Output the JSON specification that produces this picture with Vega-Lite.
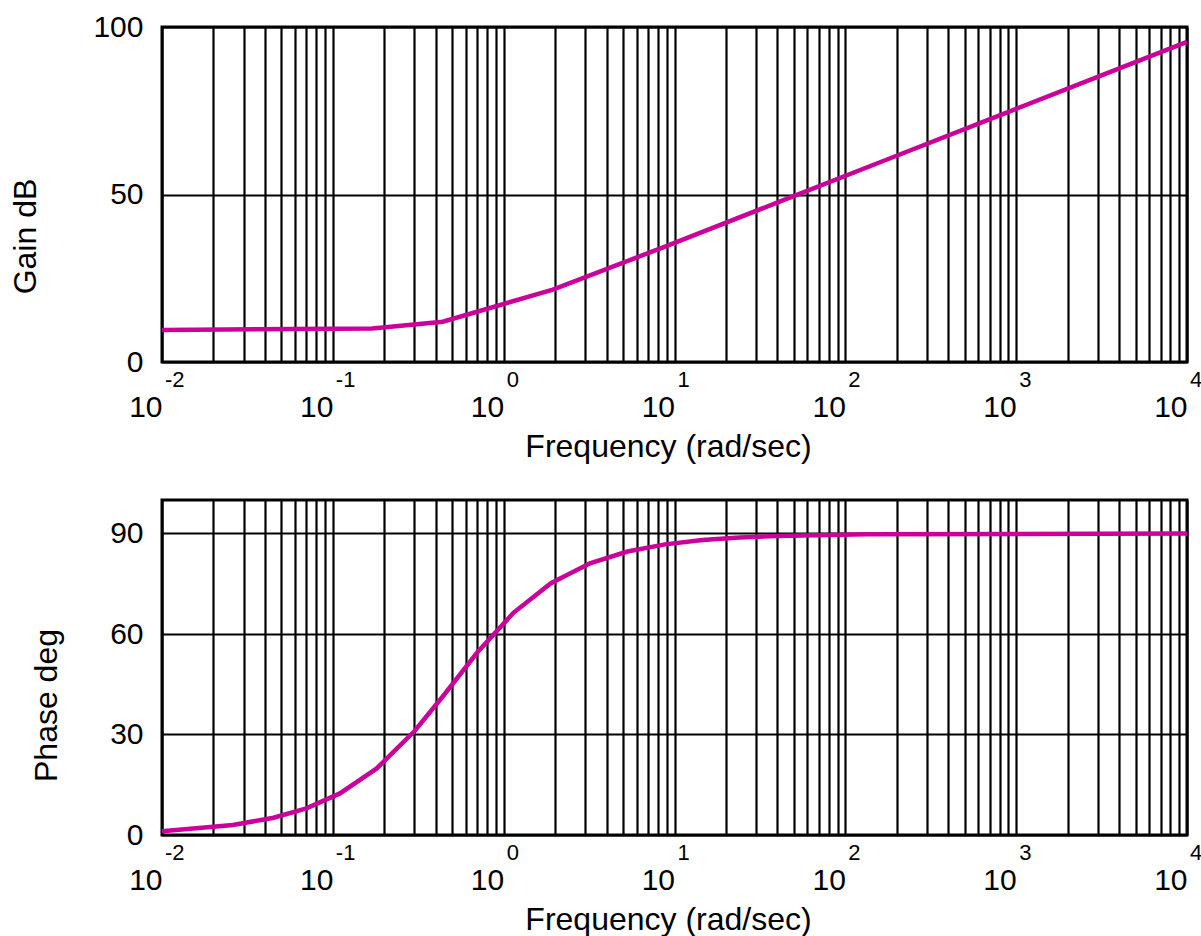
{
  "$schema": "https://vega.github.io/schema/vega-lite/v6.json",
  "background": "white",
  "padding": {"left": 7, "top": 10, "right": 10, "bottom": 0},
  "spacing": 34,
  "config": {
    "view": {"stroke": "black", "strokeWidth": 3},
    "font": "Liberation Sans",
    "axis": {
      "domain": false, "ticks": false, "grid": true,
      "gridColor": "black", "gridWidth": 2.2, "gridOpacity": 1,
      "labelColor": "black", "titleColor": "black",
      "labelFont": "Liberation Sans", "titleFont": "Liberation Sans",
      "titleFontWeight": "normal"
    }
  },
  "datasets": {
    "gain": [
      {"w": 0.01, "g": 9.54},
      {"w": 0.17, "g": 10.02},
      {"w": 0.44, "g": 12.03},
      {"w": 1.94, "g": 21.6},
      {"w": 8.5, "g": 34.16},
      {"w": 39.5, "g": 47.49},
      {"w": 180, "g": 60.67},
      {"w": 800, "g": 73.62},
      {"w": 3500, "g": 86.44},
      {"w": 10000, "g": 95.56}
    ],
    "phase": [
      {"w": 0.01, "p": 1.15},
      {"w": 0.026, "p": 2.98},
      {"w": 0.045, "p": 5.14},
      {"w": 0.07, "p": 7.97},
      {"w": 0.11, "p": 12.41},
      {"w": 0.18, "p": 19.8},
      {"w": 0.3, "p": 30.96},
      {"w": 0.44, "p": 41.35},
      {"w": 0.7, "p": 54.46},
      {"w": 1.14, "p": 66.32},
      {"w": 1.89, "p": 75.18},
      {"w": 3.2, "p": 81.12},
      {"w": 5.3, "p": 84.61},
      {"w": 8.8, "p": 86.75},
      {"w": 14.6, "p": 88.04},
      {"w": 24, "p": 88.81},
      {"w": 40, "p": 89.28},
      {"w": 133, "p": 89.78},
      {"w": 10000, "p": 90.0}
    ],
    "exps": [
      {"f": 0.01, "e": "-2"},
      {"f": 0.1, "e": "-1"},
      {"f": 1, "e": "0"},
      {"f": 10, "e": "1"},
      {"f": 100, "e": "2"},
      {"f": 1000, "e": "3"},
      {"f": 10000, "e": "4"}
    ]
  },
  "vconcat": [
    {
      "width": 1025,
      "height": 335,
      "layer": [
        {
          "data": {"name": "gain"},
          "mark": {"type": "line", "color": "#cc0099", "strokeWidth": 4.5},
          "encoding": {
            "x": {
              "field": "w", "type": "quantitative",
              "scale": {"type": "log", "domain": [0.01, 10000], "nice": false},
              "axis": {
                "values": [0.01,0.02,0.03,0.04,0.05,0.06,0.07,0.08,0.09,0.1,0.2,0.3,0.4,0.5,0.6,0.7,0.8,0.9,1,2,3,4,5,6,7,8,9,10,20,30,40,50,60,70,80,90,100,200,300,400,500,600,700,800,900,1000,2000,3000,4000,5000,6000,7000,8000,9000,10000],
                "labelExpr": "indexof([0.01,0.1,1,10,100,1000,10000], datum.value) >= 0 ? '10' : ''",
                "labelAlign": "right", "labelDx": -4, "labelBaseline": "alphabetic",
                "labelPadding": 54, "labelFontSize": 30, "labelOverlap": false, "labelFlush": false,
                "title": "Frequency (rad/sec)", "titleFontSize": 32,
                "titleX": 506, "titleY": 94.5, "titleBaseline": "alphabetic", "titleAlign": "center"
              }
            },
            "y": {
              "field": "g", "type": "quantitative",
              "scale": {"domain": [0, 100], "nice": false, "zero": false},
              "axis": {
                "values": [0, 50, 100],
                "labelFontSize": 30, "labelPadding": 19, "labelBaseline": "middle", "labelDy": -5,
                "title": "Gain dB", "titleFontSize": 32,
                "titleX": -127, "titleY": 209, "titleBaseline": "alphabetic", "titleAlign": "center", "titleAngle": -90
              }
            }
          }
        },
        {
          "data": {"name": "exps"},
          "mark": {"type": "text", "align": "left", "baseline": "alphabetic", "dx": 3, "dy": 25, "fontSize": 22, "font": "Liberation Sans", "color": "black"},
          "encoding": {
            "x": {"field": "f", "type": "quantitative", "scale": {"type": "log", "domain": [0.01, 10000], "nice": false}},
            "y": {"datum": 0, "type": "quantitative", "scale": {"domain": [0, 100], "nice": false, "zero": false}},
            "text": {"field": "e"}
          }
        }
      ]
    },
    {
      "width": 1025,
      "height": 335,
      "layer": [
        {
          "data": {"name": "phase"},
          "mark": {"type": "line", "color": "#cc0099", "strokeWidth": 4.5},
          "encoding": {
            "x": {
              "field": "w", "type": "quantitative",
              "scale": {"type": "log", "domain": [0.01, 10000], "nice": false},
              "axis": {
                "values": [0.01,0.02,0.03,0.04,0.05,0.06,0.07,0.08,0.09,0.1,0.2,0.3,0.4,0.5,0.6,0.7,0.8,0.9,1,2,3,4,5,6,7,8,9,10,20,30,40,50,60,70,80,90,100,200,300,400,500,600,700,800,900,1000,2000,3000,4000,5000,6000,7000,8000,9000,10000],
                "labelExpr": "indexof([0.01,0.1,1,10,100,1000,10000], datum.value) >= 0 ? '10' : ''",
                "labelAlign": "right", "labelDx": -4, "labelBaseline": "alphabetic",
                "labelPadding": 54, "labelFontSize": 30, "labelOverlap": false, "labelFlush": false,
                "title": "Frequency (rad/sec)", "titleFontSize": 32,
                "titleX": 506, "titleY": 94.5, "titleBaseline": "alphabetic", "titleAlign": "center"
              }
            },
            "y": {
              "field": "p", "type": "quantitative",
              "scale": {"domain": [0, 100], "nice": false, "zero": false},
              "axis": {
                "values": [0, 30, 60, 90],
                "labelFontSize": 30, "labelPadding": 19, "labelBaseline": "middle", "labelDy": -5,
                "title": "Phase deg", "titleFontSize": 32,
                "titleX": -106, "titleY": 205, "titleBaseline": "alphabetic", "titleAlign": "center", "titleAngle": -90
              }
            }
          }
        },
        {
          "data": {"name": "exps"},
          "mark": {"type": "text", "align": "left", "baseline": "alphabetic", "dx": 3, "dy": 25, "fontSize": 22, "font": "Liberation Sans", "color": "black"},
          "encoding": {
            "x": {"field": "f", "type": "quantitative", "scale": {"type": "log", "domain": [0.01, 10000], "nice": false}},
            "y": {"datum": 0, "type": "quantitative", "scale": {"domain": [0, 100], "nice": false, "zero": false}},
            "text": {"field": "e"}
          }
        }
      ]
    }
  ]
}
